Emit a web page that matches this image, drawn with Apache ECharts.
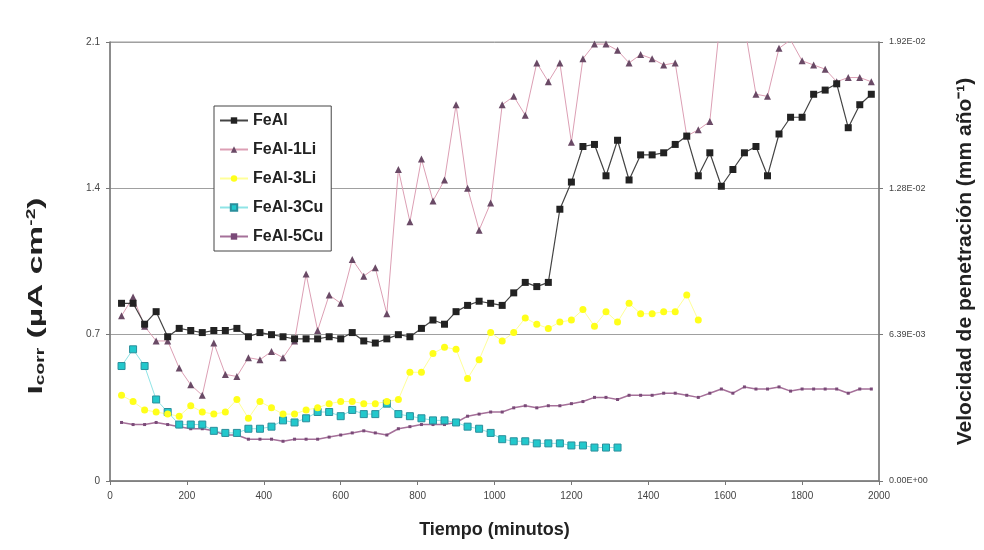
<!DOCTYPE html>
<html>
<head>
<meta charset="utf-8">
<script src="https://cdn.jsdelivr.net/npm/echarts@6/dist/echarts.min.js"></script>
<style>
  html, body { margin: 0; padding: 0; background: #ffffff; }
  #chart { width: 984px; height: 550px; }
</style>
</head>
<body>
<div id="chart"></div>
<script>
// Time of immersion (minutes), one reading every 30 min
const tiempo = [30,60,90,120,150,180,210,240,270,300,330,360,390,420,450,480,510,540,570,600,
  630,660,690,720,750,780,810,840,870,900,930,960,990,1020,1050,1080,1110,1140,1170,1200,
  1230,1260,1290,1320,1350,1380,1410,1440,1470,1500,1530,1560,1590,1620,1650,1680,1710,1740,1770,1800,
  1830,1860,1890,1920,1950,1980];

// Corrosion current density, µA cm-2
const feal = [0.85,0.85,0.75,0.81,0.69,0.73,0.72,0.71,0.72,0.72,
  0.73,0.69,0.71,0.70,0.69,0.68,0.68,0.68,0.69,0.68,
  0.71,0.67,0.66,0.68,0.70,0.69,0.73,0.77,0.75,0.81,
  0.84,0.86,0.85,0.84,0.90,0.95,0.93,0.95,1.30,1.43,
  1.60,1.61,1.46,1.63,1.44,1.56,1.56,1.57,1.61,1.65,
  1.46,1.57,1.41,1.49,1.57,1.60,1.46,1.66,1.74,1.74,
  1.85,1.87,1.90,1.69,1.80,1.85];

const feal1Li = [0.79,0.88,0.74,0.67,0.67,0.54,0.46,0.41,0.66,0.51,
  0.50,0.59,0.58,0.62,0.59,0.67,0.99,0.72,0.89,0.85,
  1.06,0.98,1.02,0.80,1.49,1.24,1.54,1.34,1.44,1.80,
  1.40,1.20,1.33,1.80,1.84,1.75,2.00,1.91,2.00,1.62,
  2.02,2.09,2.09,2.06,2.00,2.04,2.02,1.99,2.00,1.65,
  1.68,1.72,2.26,2.35,2.18,1.85,1.84,2.07,2.11,2.01,
  1.99,1.97,1.91,1.93,1.93,1.91];

const feal3Li = [0.41,0.38,0.34,0.33,0.32,0.31,0.36,0.33,0.32,0.33,
  0.39,0.30,0.38,0.35,0.32,0.32,0.34,0.35,0.37,0.38,
  0.38,0.37,0.37,0.38,0.39,0.52,0.52,0.61,0.64,0.63,
  0.49,0.58,0.71,0.67,0.71,0.78,0.75,0.73,0.76,0.77,
  0.82,0.74,0.81,0.76,0.85,0.80,0.80,0.81,0.81,0.89,
  0.77];

const feal3Cu = [0.55,0.63,0.55,0.39,0.33,0.27,0.27,0.27,0.24,0.23,
  0.23,0.25,0.25,0.26,0.29,0.28,0.30,0.33,0.33,0.31,
  0.34,0.32,0.32,0.37,0.32,0.31,0.30,0.29,0.29,0.28,
  0.26,0.25,0.23,0.20,0.19,0.19,0.18,0.18,0.18,0.17,
  0.17,0.16,0.16,0.16];

const feal5Cu = [0.28,0.27,0.27,0.28,0.27,0.26,0.25,0.25,0.24,0.22,
  0.22,0.20,0.20,0.20,0.19,0.20,0.20,0.20,0.21,0.22,
  0.23,0.24,0.23,0.22,0.25,0.26,0.27,0.27,0.27,0.28,
  0.31,0.32,0.33,0.33,0.35,0.36,0.35,0.36,0.36,0.37,
  0.38,0.40,0.40,0.39,0.41,0.41,0.41,0.42,0.42,0.41,
  0.40,0.42,0.44,0.42,0.45,0.44,0.44,0.45,0.43,0.44,
  0.44,0.44,0.44,0.42,0.44,0.44];

// Axis tick labels
const leftTicks = ['0', '0.7', '1.4', '2.1'];
const rightTicks = ['0.00E+00', '6.39E-03', '1.28E-02', '1.92E-02'];

const pairs = (vals) => vals.map((v, i) => [tiempo[i], v]);
const tickIndex = (v) => Math.round(v / 0.7);

const font = 'Liberation Sans, Arial, sans-serif';

const chart = echarts.init(document.getElementById('chart'));
chart.setOption({
  backgroundColor: '#ffffff',
  animation: false,
  textStyle: { fontFamily: font },
  grid: { left: 110, right: 103, top: 42, bottom: 69, show: true, borderColor: '#9a9a9a', borderWidth: 1 },
  legend: {
    orient: 'vertical',
    left: 214, top: 106,
    padding: [6, 8, 6, 5],
    itemGap: 12,
    itemWidth: 28, itemHeight: 8,
    borderColor: '#444', borderWidth: 1,
    backgroundColor: '#ffffff',
    data: ['FeAl', 'FeAl-1Li', 'FeAl-3Li', 'FeAl-3Cu', 'FeAl-5Cu'],
    textStyle: { fontFamily: font, fontSize: 16, lineHeight: 17, fontWeight: 'bold', color: '#222' }
  },
  // Left axis title, drawn wide along its reading direction
  graphic: [
    {
      type: 'text',
      x: 36, y: 296,
      rotation: Math.PI / 2,
      scaleX: 1.6, scaleY: 1,
      style: {
        text: '{a|I}{s|corr}{a| (µA cm}{p|-2}{a|)}',
        align: 'center', verticalAlign: 'middle',
        rich: {
          a: { fontFamily: font, fontSize: 21, fontWeight: 'bold', fill: '#222' },
          s: { fontFamily: font, fontSize: 12, fontWeight: 'bold', fill: '#222', verticalAlign: 'bottom', padding: [8, 0, 0, 0] },
          p: { fontFamily: font, fontSize: 12, fontWeight: 'bold', fill: '#222', verticalAlign: 'top', padding: [0, 0, 8, 0] }
        }
      }
    }
  ],
  xAxis: {
    type: 'value', min: 0, max: 2000, interval: 200,
    name: 'Tiempo (minutos)', nameLocation: 'middle', nameGap: 40,
    nameTextStyle: { fontFamily: font, fontSize: 18, fontWeight: 'bold', color: '#222' },
    axisLine: { lineStyle: { color: '#777', width: 1.5 } },
    axisTick: { show: true, length: 4, lineStyle: { color: '#777' } },
    axisLabel: { fontSize: 10, color: '#444', margin: 10, formatter: (v) => String(v) },
    splitLine: { show: false }
  },
  yAxis: [
    {
      type: 'value', min: 0, max: 2.1, interval: 0.7, position: 'left',
      axisLine: { show: true, lineStyle: { color: '#777', width: 1.5 } },
      axisTick: { show: true, length: 4, lineStyle: { color: '#777' } },
      axisLabel: { fontSize: 10, color: '#444', margin: 10, formatter: (v) => leftTicks[tickIndex(v)] },
      splitLine: { show: true, lineStyle: { color: '#a0a0a0', width: 1 } }
    },
    {
      type: 'value', min: 0, max: 2.1, interval: 0.7, position: 'right',
      name: 'Velocidad de penetración (mm año⁻¹)',
      nameLocation: 'middle', nameGap: 76, nameRotate: 90,
      nameTextStyle: { fontFamily: font, fontSize: 21, fontWeight: 'bold', color: '#222' },
      axisLine: { show: true, lineStyle: { color: '#777', width: 1.5 } },
      axisTick: { show: true, length: 4, lineStyle: { color: '#777' } },
      axisLabel: { fontSize: 9, color: '#444', margin: 10, formatter: (v) => rightTicks[tickIndex(v)] },
      splitLine: { show: false }
    }
  ],
  series: [
    {
      name: 'FeAl-5Cu', type: 'line', yAxisIndex: 0, z: 2,
      data: pairs(feal5Cu),
      symbol: 'rect', symbolSize: 3,
      itemStyle: { color: '#7a4a78' },
      lineStyle: { color: '#a57099', width: 1.5 }
    },
    {
      name: 'FeAl-3Cu', type: 'line', yAxisIndex: 0, z: 3,
      data: pairs(feal3Cu),
      symbol: 'rect', symbolSize: 7,
      itemStyle: { color: '#22c8cc', borderColor: '#2a8f9c', borderWidth: 1 },
      lineStyle: { color: '#8fe4e6', width: 1 }
    },
    {
      name: 'FeAl-3Li', type: 'line', yAxisIndex: 0, z: 3,
      data: pairs(feal3Li),
      symbol: 'circle', symbolSize: 7,
      itemStyle: { color: '#ffff1a' },
      lineStyle: { color: '#ffff99', width: 1 }
    },
    {
      name: 'FeAl-1Li', type: 'line', yAxisIndex: 0, z: 4,
      data: pairs(feal1Li),
      symbol: 'triangle', symbolSize: 7,
      itemStyle: { color: '#6a4a66' },
      lineStyle: { color: '#dc9fb4', width: 1 }
    },
    {
      name: 'FeAl', type: 'line', yAxisIndex: 0, z: 5,
      data: pairs(feal),
      symbol: 'rect', symbolSize: 7,
      itemStyle: { color: '#222' },
      lineStyle: { color: '#444', width: 1.2 }
    }
  ]
});
</script>
</body>
</html>
